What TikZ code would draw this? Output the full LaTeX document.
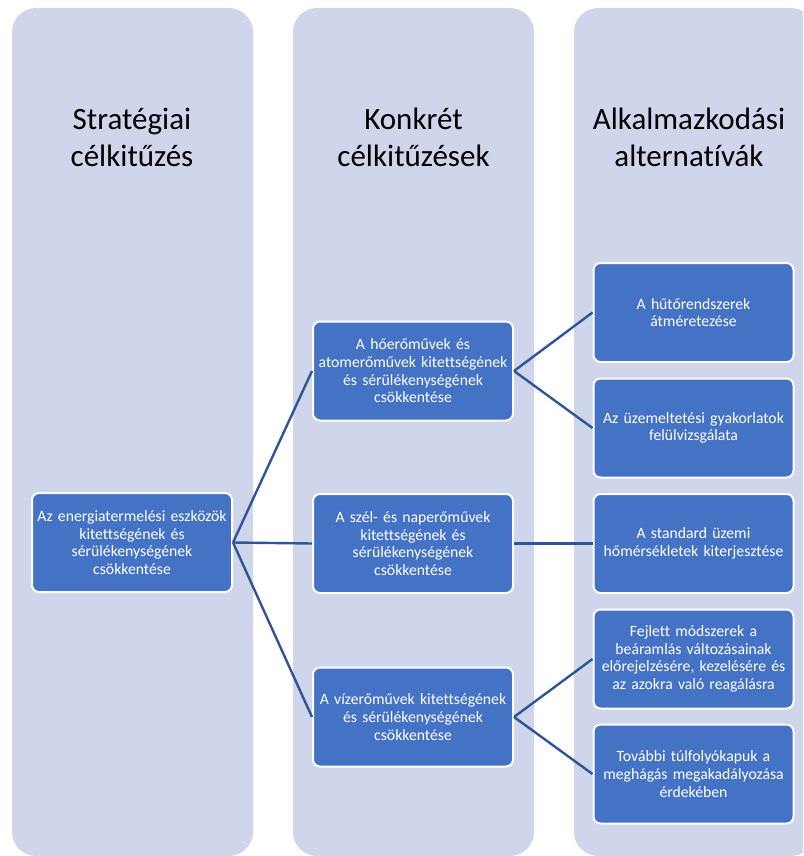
\documentclass[tikz,border=0pt]{standalone}
\usepackage{fontspec}
\setmainfont[Ligatures=NoCommon]{Carlito}
\definecolor{colbg}{RGB}{207,213,234}
\definecolor{boxblue}{RGB}{68,114,196}
\definecolor{connblue}{RGB}{47,85,151}
\begin{document}
\begin{tikzpicture}[x=1pt,y=-1pt,
  colbox/.style={fill=colbg, rounded corners=24pt},
  title/.style={align=center, font=\fontsize{31}{37}\selectfont, text=black},
  itembox/.style={rectangle, rounded corners=7pt, fill=boxblue, draw=white, line width=2pt,
    minimum width=200pt, minimum height=99pt, text width=196pt, inner sep=1pt,
    align=center, text=white, font=\fontsize{15.7}{17.6}\selectfont},
  conn/.style={draw=connblue, line width=2.4pt}]
\useasboundingbox (0,0) rectangle (803,856);
\begin{scope}
\clip (0,0) rectangle (803,856);
\fill[colbox] (12,8) rectangle (253,856);
\fill[colbox] (293,8) rectangle (534,856);
\fill[colbox] (574,8) rectangle (815,856);
\end{scope}
\node[title] (t1) at (132,137) {Stratégiai\\célkitűzés};
\node[title] (t2) at (413.5,137) {Konkrét\\célkitűzések};
\node[title] (t3) at (689,137) {Alkalmazkodási\\alternatívák};

\node[itembox] (A) at (132,542.5) {Az energiatermelési eszközök\\kitettségének és\\sérülékenységének\\csökkentése};
\node[itembox] (B1) at (413,371) {A hőerőművek és\\atomerőművek kitettségének\\és sérülékenységének\\csökkentése};
\node[itembox] (B2) at (413,543.5) {A szél- és naperőművek\\kitettségének és\\sérülékenységének\\csökkentése};
\node[itembox] (B3) at (413,717) {A vízerőművek kitettségének\\és sérülékenységének\\csökkentése};
\node[itembox] (C1) at (693.5,312.5) {A hűtőrendszerek\\átméretezése};
\node[itembox] (C2) at (693.5,428) {Az üzemeltetési gyakorlatok\\felülvizsgálata};
\node[itembox] (C3) at (693.5,543.5) {A standard üzemi\\hőmérsékletek kiterjesztése};
\node[itembox] (C4) at (693.5,659) {Fejlett módszerek a\\beáramlás változásainak\\előrejelzésére, kezelésére és\\az azokra való reagálásra};
\node[itembox] (C5) at (693.5,774) {További túlfolyókapuk a\\meghágás megakadályozása\\érdekében};

\draw[conn] (A.east) -- (B1.west);
\draw[conn] (A.east) -- (B2.west);
\draw[conn] (A.east) -- (B3.west);
\draw[conn] (B1.east) -- (C1.west);
\draw[conn] (B1.east) -- (C2.west);
\draw[conn] (B2.east) -- (C3.west);
\draw[conn] (B3.east) -- (C4.west);
\draw[conn] (B3.east) -- (C5.west);
\end{tikzpicture}
\end{document}
